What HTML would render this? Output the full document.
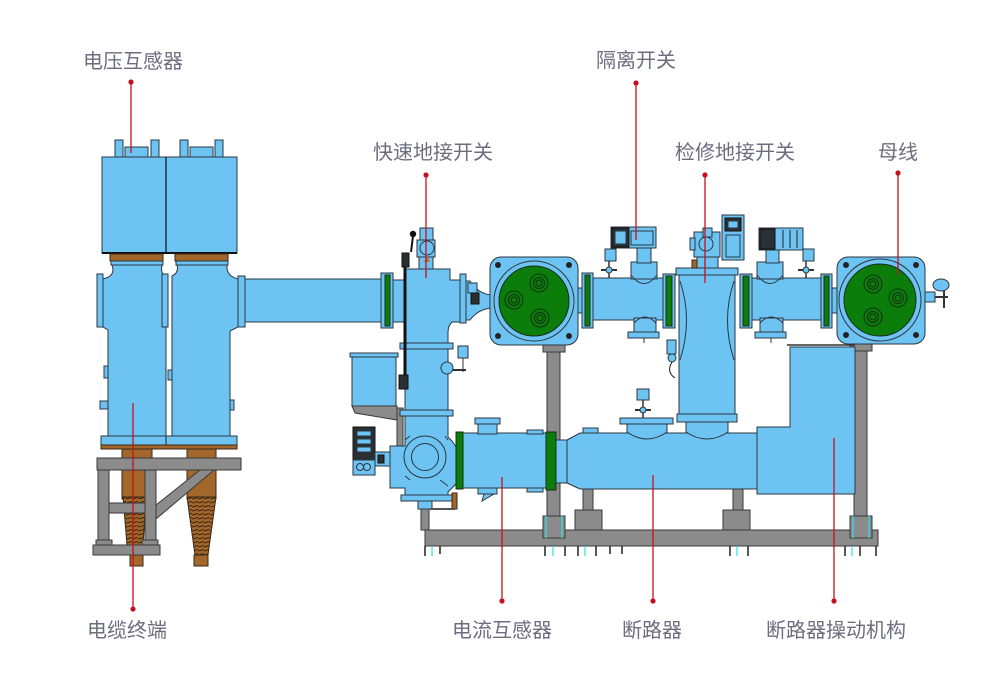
<!DOCTYPE html>
<html><head><meta charset="utf-8"><style>
html,body{margin:0;padding:0;background:#fff;}
svg{display:block}
.b{fill:#6dc4f3;stroke:#2b3640;stroke-width:1}
.g{fill:#0a7d0a;stroke:#1c2a1c;stroke-width:1}
.gr{fill:#8b8b8b;stroke:#3a3a3a;stroke-width:1}
.br{fill:#a3672b;stroke:#3a2a1a;stroke-width:1}
.d{fill:#2a2f33;stroke:#111;stroke-width:1}
.s{fill:none;stroke:#2b3640;stroke-width:1}
.ln{stroke:#c8101c;stroke-width:1.3;fill:none}
.dot{fill:#c8101c}
.t{font-family:"Liberation Sans","Noto Sans CJK SC",sans-serif;font-size:20px;fill:#6b6e7e;text-anchor:middle}
.cy{stroke:#2fe0f0;stroke-width:1.2}
</style></head><body>
<svg width="1003" height="681" viewBox="0 0 1003 681" xmlns="http://www.w3.org/2000/svg">
<defs>
<pattern id="sp" width="6" height="4" patternUnits="userSpaceOnUse">
<path d="M0,3 L6,1.5" stroke="#3a2410" stroke-width="1"/>
</pattern>
</defs>

<!-- ========== LEFT: cable terminations ========== -->
<!-- cables -->
<rect class="br" x="122" y="449" width="30" height="50"/>
<path class="br" d="M123,497 L146,497 L143,545 L127,545 Z"/>
<path d="M123,497 L146,497 L143,545 L127,545 Z" fill="url(#sp)"/>
<rect class="br" x="130" y="545" width="13" height="21"/>
<rect class="br" x="187" y="449" width="29" height="50"/>
<path class="br" d="M187,497 L216,497 L208,555 L195,555 Z"/>
<path d="M187,497 L216,497 L208,555 L195,555 Z" fill="url(#sp)"/>
<rect class="br" x="194" y="555" width="14" height="11"/>

<!-- frame -->
<rect class="gr" x="97" y="458" width="144" height="12"/>
<rect class="gr" x="98" y="470" width="11" height="75"/>
<rect class="gr" x="145" y="470" width="11" height="75"/>
<rect class="gr" x="109" y="503" width="36" height="10"/>
<polygon class="gr" points="156,505 200,470 214,470 156,519"/>
<rect class="gr" x="96" y="540" width="16" height="5"/>
<rect class="gr" x="142" y="540" width="16" height="5"/>
<rect class="gr" x="93" y="545" width="67" height="10"/>

<!-- VT posts -->
<rect class="b" x="115" y="140" width="8" height="17"/>
<rect class="b" x="151" y="140" width="8" height="17"/>
<rect class="b" x="125" y="147" width="23" height="10"/>
<rect class="b" x="180" y="140" width="8" height="17"/>
<rect class="b" x="215" y="140" width="8" height="17"/>
<rect class="b" x="190" y="147" width="23" height="10"/>
<!-- VT boxes -->
<rect class="b" x="102" y="157" width="135" height="96"/>
<line x1="166" y1="157" x2="166" y2="253" stroke="#1a1a1a" stroke-width="1.3"/>
<line x1="102" y1="253" x2="237" y2="253" stroke="#111" stroke-width="2"/>
<!-- brown plates -->
<rect class="br" x="110" y="254" width="53" height="7"/>
<rect class="br" x="175" y="254" width="53" height="7"/>
<rect class="b" x="111" y="261" width="52" height="4"/>
<rect class="b" x="176" y="261" width="52" height="4"/>

<!-- horizontal pipe to fast earthing switch -->
<rect class="b" x="244" y="279" width="142" height="43"/>

<!-- cylinders -->
<path class="b" d="M112,265 L162,265 Q160,274 166,276 L166,436 L108,436 L108,330 L103,327 L103,279 Q116,276 112,265 Z"/>
<path class="b" d="M177,265 L227,265 Q226,276 238,279 L238,327 L230,331 L230,436 L172,436 L172,276 Q179,273 177,265 Z"/>
<rect class="b" x="104" y="366" width="4" height="12"/>
<rect class="b" x="100" y="401" width="8" height="8"/>
<rect class="b" x="168" y="370" width="4" height="10"/>
<rect class="b" x="230" y="400" width="4" height="10"/>
<!-- flanges -->
<rect class="b" x="97" y="274" width="6" height="53"/>
<rect class="b" x="162" y="274" width="6" height="53"/>
<rect class="b" x="238" y="276" width="7" height="51"/>
<!-- bottom plate -->
<rect class="b" x="101" y="436" width="136" height="9"/>
<line x1="166" y1="436" x2="166" y2="445" stroke="#222"/>
<rect class="br" x="101" y="445" width="136" height="4"/>

<!-- ========== BASE RAIL & POSTS ========== -->
<rect class="gr" x="425" y="530" width="453" height="16"/>
<g stroke="#222" stroke-width="1.5" fill="none">
<path d="M425,546 L425,556 M440,546 L440,554"/>
<path d="M545,546 L545,556 M565,546 L565,556"/>
<path d="M578,546 L578,556 M596,546 L596,556"/>
<path d="M610,546 L610,554 M622,546 L622,554"/>
<path d="M730,546 L730,556 M748,546 L748,556"/>
<path d="M845,546 L845,556 M860,546 L860,556 M876,546 L876,556"/>
</g>
<g class="cy">
<line x1="432" y1="546" x2="432" y2="556"/>
<line x1="553" y1="546" x2="553" y2="556"/>
<line x1="585" y1="546" x2="585" y2="556"/>
<line x1="737" y1="546" x2="737" y2="556"/>
<line x1="852" y1="546" x2="852" y2="556"/>
</g>
<rect class="gr" x="547" y="345" width="13" height="175"/>
<rect class="gr" x="854" y="345" width="13" height="175"/>
<rect class="gr" x="543" y="516" width="22" height="22"/>
<rect class="gr" x="850" y="516" width="22" height="22"/>
<g class="cy"><line x1="546" y1="516" x2="546" y2="538"/><line x1="562" y1="516" x2="562" y2="538"/><line x1="853" y1="516" x2="853" y2="538"/><line x1="869" y1="516" x2="869" y2="538"/></g>
<rect class="gr" x="543" y="345" width="22" height="7"/>
<rect class="gr" x="850" y="344" width="22" height="7"/>

<!-- breaker supports -->
<rect class="gr" x="583" y="488" width="10" height="22"/>
<rect class="gr" x="575" y="510" width="27" height="20"/>
<rect class="gr" x="733" y="488" width="10" height="22"/>
<rect class="gr" x="723" y="510" width="27" height="20"/>
<rect class="gr" x="580" y="484" width="16" height="5"/>
<rect class="gr" x="730" y="484" width="16" height="5"/>

<!-- ========== FAST EARTHING SWITCH ========== -->
<!-- left box -->
<rect class="b" x="352" y="356" width="44" height="50"/>
<rect class="b" x="350" y="353" width="48" height="4"/>
<polygon class="gr" points="352,406 397,406 397,420 355,413"/>
<rect class="gr" x="397" y="408" width="6" height="40"/>
<!-- control box -->
<rect class="d" x="353" y="427" width="22" height="34"/>
<rect class="b" x="357" y="431" width="14" height="5"/>
<rect class="b" x="357" y="439" width="14" height="5"/>
<rect class="b" x="357" y="447" width="14" height="5"/>
<rect class="b" x="353" y="460" width="22" height="15"/>
<circle class="s" cx="360" cy="467" r="3.5"/><circle class="s" cx="367" cy="467" r="3.5"/>
<rect class="b" x="375" y="452" width="15" height="14"/>
<rect class="d" x="378" y="455" width="6" height="8"/>

<!-- body -->
<path class="b" d="M393,280 L405,280 L405,269 L450,269 L450,280 L460,280 L460,322 L452,322 Q448,326 448,332 L448,437 L452,441 L456,447 L456,484 L450,490 L448,492 L448,500 L405,500 L405,488 L390,488 L390,446 L405,446 L405,322 L393,322 Z"/>
<rect class="b" x="400" y="343" width="53" height="6"/>
<rect class="b" x="400" y="410" width="53" height="6"/>
<rect class="b" x="401" y="495" width="51" height="6"/>
<circle class="b" cx="425" cy="457" r="21"/>
<circle class="s" cx="425" cy="457" r="13.5"/>
<path class="s" d="M405,440 L410,436 M445,436 L448,440 M405,476 L410,480 M440,480 L448,486"/>
<!-- bottom fittings -->
<rect class="b" x="418" y="501" width="14" height="8"/>
<rect class="gr" x="421" y="509" width="8" height="21"/>
<rect class="br" x="452" y="493" width="5" height="16"/>
<line x1="430" y1="509" x2="455" y2="509" stroke="#555" stroke-width="2"/>

<!-- mechanism top -->
<rect class="b" x="419" y="257" width="14" height="12"/>
<rect class="b" x="417" y="240" width="18" height="17"/>
<circle class="b" cx="427" cy="248" r="7"/>
<rect class="b" x="420" y="228" width="13" height="12"/>
<path d="M424,262 L427,256 L430,262 Z" fill="#c07030"/>
<circle cx="413" cy="234" r="3.2" fill="#111"/>
<line x1="413" y1="236" x2="411" y2="252" stroke="#111" stroke-width="2"/>
<rect class="d" x="402" y="253" width="7" height="14"/>
<line x1="405" y1="267" x2="405" y2="386" stroke="#111" stroke-width="3"/>
<rect class="d" x="399" y="375" width="9" height="14"/>
<!-- right side valve -->
<rect class="b" x="458" y="346" width="10" height="12"/>
<line x1="463" y1="358" x2="463" y2="372" stroke="#333"/>
<circle class="b" cx="447" cy="368" r="6"/>
<line x1="453" y1="370" x2="466" y2="370" stroke="#333" stroke-width="2"/>

<!-- flanges around FES -->
<rect class="b" x="381" y="273" width="12" height="55"/>
<rect class="g" x="385" y="275" width="5" height="51"/>
<rect class="b" x="460" y="274" width="6" height="49"/>
<!-- funnel link -->
<path class="b" d="M466,281 L470,281 Q478,294 492,295 L492,308 Q478,309 470,320 L466,320 Z"/>
<rect class="b" x="468" y="283" width="9" height="10"/>
<rect class="d" x="471" y="293" width="8" height="11"/>

<!-- ========== BUS BOX LEFT ========== -->
<rect class="b" x="490" y="257" width="88" height="88" rx="11"/>
<circle class="b" cx="534" cy="301" r="40"/>
<circle class="g" cx="534" cy="301" r="35"/>
<g fill="none" stroke="#153015" stroke-width="1">
<circle cx="539" cy="283" r="9"/><circle cx="539" cy="283" r="5.5"/><circle cx="539" cy="283" r="3"/>
<circle cx="514" cy="300" r="9"/><circle cx="514" cy="300" r="5.5"/><circle cx="514" cy="300" r="3"/>
<circle cx="540" cy="318" r="9"/><circle cx="540" cy="318" r="5.5"/><circle cx="540" cy="318" r="3"/>
</g>
<g fill="#222"><circle cx="498" cy="265" r="3"/><circle cx="569" cy="265" r="3"/><circle cx="498" cy="336" r="3"/><circle cx="569" cy="336" r="3"/></g>
<rect class="b" x="578" y="288" width="5" height="25"/>

<!-- ========== UPPER PIPES ========== -->
<rect class="b" x="592" y="278" width="73" height="42"/>
<rect class="b" x="751" y="278" width="72" height="42"/>

<!-- maintenance earthing switch body -->
<rect class="b" x="679" y="274" width="56" height="142"/>
<path class="s" d="M680,281 Q693,320 680,360 M734,281 Q721,320 734,360"/>
<rect class="b" x="676" y="268" width="62" height="7"/>
<rect class="b" x="677" y="414" width="60" height="8"/>
<rect class="b" x="697" y="257" width="21" height="11"/>
<rect class="b" x="694" y="232" width="26" height="25"/>
<circle class="s" cx="706" cy="244" r="7"/>
<rect class="b" x="703" y="228" width="9" height="9"/>
<rect class="b" x="690" y="238" width="5" height="12"/>
<rect class="br" x="692" y="260" width="5" height="8"/>
<rect class="b" x="722" y="215" width="22" height="45" stroke="#111" stroke-width="2.2"/>
<rect class="d" x="725" y="218" width="16" height="13"/>
<rect class="b" x="728" y="221" width="10" height="7"/>
<rect class="b" x="726" y="235" width="14" height="22"/>
<!-- side gauge -->
<rect class="b" x="667" y="340" width="9" height="14"/>
<circle class="b" cx="672" cy="358" r="4"/>
<path d="M672,362 Q666,372 675,378" fill="none" stroke="#222"/>

<!-- disconnect bulges A -->
<rect class="b" x="631" y="262" width="26" height="17"/>
<path class="s" d="M631,275 Q644,292 657,275"/>
<rect class="b" x="634" y="318" width="22" height="15"/>
<path class="b" d="M628,332 L659,332 L659,338 L628,338 Z"/>
<path class="s" d="M634,323 Q645,311 656,323"/>
<line x1="644" y1="338" x2="644" y2="343" stroke="#333"/>
<!-- disconnect bulges B -->
<rect class="b" x="757" y="262" width="26" height="17"/>
<path class="s" d="M757,275 Q770,292 783,275"/>
<rect class="b" x="760" y="318" width="23" height="15"/>
<rect class="b" x="755" y="332" width="31" height="6"/>
<path class="s" d="M760,323 Q771,311 783,323"/>
<line x1="771" y1="338" x2="771" y2="343" stroke="#333"/>

<!-- mechanisms on top -->
<rect class="b" x="637" y="248" width="14" height="15"/>
<rect class="b" x="611" y="227" width="45" height="21" stroke="#111" stroke-width="2.2"/>
<rect class="d" x="612" y="228" width="17" height="19"/>
<rect class="b" x="615" y="231" width="11" height="13"/>
<rect class="b" x="631" y="231" width="22" height="14"/>
<rect class="b" x="766" y="250" width="13" height="13"/>
<rect class="b" x="759" y="228" width="44" height="22" stroke="#111" stroke-width="2.2"/>
<rect class="d" x="760" y="229" width="15" height="20"/>
<circle class="s" cx="767.5" cy="235" r="3.5" stroke="#6dc4f3"/><circle class="s" cx="767.5" cy="243" r="3.5" stroke="#6dc4f3"/>
<g stroke="#222"><line x1="783" y1="230" x2="783" y2="248"/><line x1="790" y1="230" x2="790" y2="248"/><line x1="797" y1="230" x2="797" y2="248"/></g>
<!-- small valves -->
<rect class="b" x="605" y="249" width="11" height="12"/>
<line x1="609" y1="261" x2="609" y2="278" stroke="#333" stroke-width="1.5"/>
<line x1="601" y1="270" x2="617" y2="270" stroke="#333" stroke-width="2"/>
<circle class="b" cx="609" cy="270" r="3"/>
<rect class="b" x="803" y="249" width="11" height="12"/>
<line x1="806" y1="261" x2="806" y2="278" stroke="#333" stroke-width="1.5"/>
<line x1="798" y1="270" x2="814" y2="270" stroke="#333" stroke-width="2"/>
<circle class="b" cx="806" cy="270" r="3"/>

<!-- flanges upper -->
<rect class="b" x="582" y="273" width="11" height="55"/>
<rect class="g" x="585" y="275" width="5" height="51"/>
<rect class="b" x="663" y="274" width="12" height="54"/>
<rect class="g" x="666" y="276" width="6" height="50"/>
<rect class="b" x="740" y="274" width="12" height="54"/>
<rect class="g" x="743" y="276" width="6" height="50"/>
<rect class="b" x="821" y="274" width="11" height="54"/>
<rect class="g" x="824" y="276" width="5" height="50"/>
<rect class="b" x="832" y="288" width="6" height="25"/>

<!-- ========== BUS BOX RIGHT ========== -->
<rect class="b" x="837" y="257" width="88" height="87" rx="11"/>
<circle class="b" cx="880" cy="300" r="41"/>
<circle class="g" cx="880" cy="300" r="36"/>
<g fill="none" stroke="#153015" stroke-width="1">
<circle cx="873" cy="284" r="9"/><circle cx="873" cy="284" r="5.5"/><circle cx="873" cy="284" r="3"/>
<circle cx="898" cy="298" r="9"/><circle cx="898" cy="298" r="5.5"/><circle cx="898" cy="298" r="3"/>
<circle cx="873" cy="317" r="9"/><circle cx="873" cy="317" r="5.5"/><circle cx="873" cy="317" r="3"/>
</g>
<g fill="#222"><circle cx="846" cy="265" r="3"/><circle cx="916" cy="265" r="3"/><circle cx="846" cy="335" r="3"/><circle cx="916" cy="335" r="3"/></g>
<!-- right valve -->
<rect class="b" x="925" y="292" width="10" height="10"/>
<line x1="935" y1="297" x2="948" y2="297" stroke="#333" stroke-width="2"/>
<line x1="944" y1="289" x2="944" y2="308" stroke="#333" stroke-width="2"/>
<ellipse class="b" cx="941" cy="285" rx="8" ry="6"/>

<!-- ========== OPERATING MECHANISM ========== -->
<polygon class="b" points="790,347 855,347 855,494 757,494 757,427 790,427"/>
<line x1="787" y1="345" x2="855" y2="345" stroke="#333" stroke-width="1.5"/>

<!-- ========== CT & BREAKER ========== -->
<rect class="b" x="556" y="440" width="12" height="43"/>
<path class="b" d="M567,440 L580,433 L757,433 L757,489 L580,489 L567,483 Z"/>
<rect class="b" x="583" y="428" width="15" height="5"/>
<!-- dome 1 -->
<rect class="b" x="620" y="418" width="53" height="6"/>
<path class="b" d="M627,424 L667,424 L667,432 Q647,446 627,432 Z"/>
<line x1="643" y1="400" x2="643" y2="418" stroke="#333" stroke-width="1.5"/>
<line x1="635" y1="410" x2="651" y2="410" stroke="#333" stroke-width="2"/>
<circle class="b" cx="643" cy="410" r="3"/>
<rect class="b" x="637" y="389" width="12" height="11"/>
<!-- dome 2 -->
<path class="b" d="M686,422 L728,422 L728,432 Q707,446 686,432 Z"/>

<!-- CT -->
<rect class="b" x="463" y="433" width="83" height="55"/>
<rect class="g" x="456" y="432" width="7" height="57"/>
<rect class="g" x="546" y="432" width="10" height="58"/>
<rect class="b" x="478" y="424" width="19" height="10"/>
<rect class="b" x="475" y="418" width="25" height="6"/>
<rect class="b" x="527" y="430" width="16" height="4"/>
<rect class="b" x="527" y="488" width="16" height="4"/>
<rect class="b" x="478" y="488" width="19" height="6"/>
<polygon class="b" points="484,494 494,494 482,501"/>

<!-- ========== LABELS & LEADERS ========== -->
<g class="ln">
<line x1="131" y1="82" x2="131" y2="153"/>
<line x1="133" y1="403" x2="133" y2="609"/>
<line x1="426" y1="175" x2="426" y2="278"/>
<line x1="636" y1="83" x2="636" y2="240"/>
<line x1="705" y1="175" x2="705" y2="283"/>
<line x1="898" y1="173" x2="898" y2="275"/>
<line x1="502" y1="477" x2="502" y2="601"/>
<line x1="653" y1="475" x2="653" y2="601"/>
<line x1="834" y1="438" x2="834" y2="601"/>
</g>
<g class="dot">
<circle cx="131" cy="82" r="2.6"/>
<circle cx="133" cy="609" r="2.6"/>
<circle cx="426" cy="175" r="2.6"/>
<circle cx="636" cy="83" r="2.6"/>
<circle cx="705" cy="175" r="2.6"/>
<circle cx="898" cy="173" r="2.6"/>
<circle cx="502" cy="601" r="2.6"/>
<circle cx="653" cy="601" r="2.6"/>
<circle cx="834" cy="601" r="2.6"/>
</g>
<text class="t" x="133" y="68">电压互感器</text>
<text class="t" x="636" y="67">隔离开关</text>
<text class="t" x="433" y="159">快速地接开关</text>
<text class="t" x="735" y="159">检修地接开关</text>
<text class="t" x="898" y="159">母线</text>
<text class="t" x="127" y="637">电缆终端</text>
<text class="t" x="502" y="637">电流互感器</text>
<text class="t" x="652" y="637">断路器</text>
<text class="t" x="836" y="637">断路器操动机构</text>
</svg>
</body></html>
